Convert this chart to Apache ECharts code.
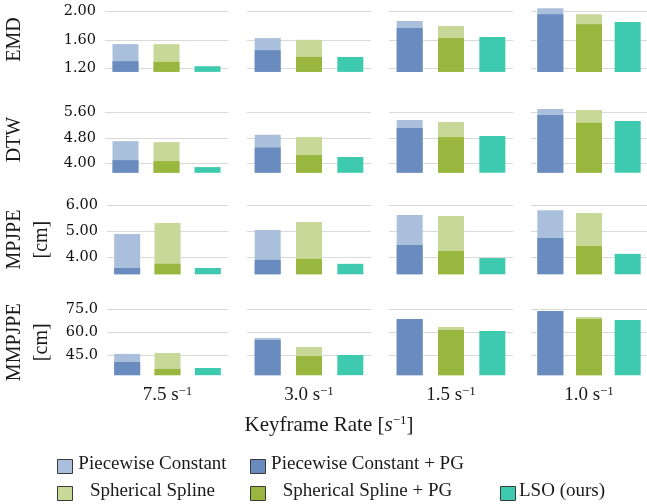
<!DOCTYPE html>
<html><head><meta charset="utf-8">
<script src="https://cdn.jsdelivr.net/npm/echarts@6/dist/echarts.min.js"></script>
<style>html,body{margin:0;padding:0;background:#fff}#c{width:647px;height:504px}</style>
</head><body><div id="c"></div>
<script>
// ---- data ----
const rates = ['7.5', '3.0', '1.5', '1.0'];
const metricNames = ['EMD', 'DTW', 'MPJPE\n[cm]', 'MMPJPE\n[cm]'];
const seriesNames = ['Piecewise Constant', 'Piecewise Constant + PG', 'Spherical Spline', 'Spherical Spline + PG', 'LSO (ours)'];
const methodCats = ['Piecewise Constant', 'Spherical Spline', 'LSO'];

const emdPC     = [1.54, 1.625, 1.865, 2.045];
const emdPCPG   = [1.30, 1.455, 1.765, 1.96];
const emdSS     = [1.54, 1.60, 1.795, 1.96];
const emdSSPG   = [1.29, 1.36, 1.625, 1.82];
const emdLSO    = [1.23, 1.36, 1.64, 1.85];

const dtwPC     = [4.70, 4.90, 5.37, 5.72];
const dtwPCPG   = [4.10, 4.50, 5.12, 5.53];
const dtwSS     = [4.67, 4.83, 5.31, 5.69];
const dtwSSPG   = [4.07, 4.26, 4.83, 5.28];
const dtwLSO    = [3.88, 4.20, 4.86, 5.34];

const mpjpePC   = [4.89, 5.04, 5.61, 5.80];
const mpjpePCPG = [3.59, 3.90, 4.47, 4.74];
const mpjpeSS   = [5.31, 5.35, 5.58, 5.69];
const mpjpeSSPG = [3.75, 3.94, 4.24, 4.43];
const mpjpeLSO  = [3.59, 3.75, 3.97, 4.13];

const mmpjpePC   = [45.9, 56.3, 68.5, 73.5];
const mmpjpePCPG = [40.6, 55.0, 68.7, 73.9];
const mmpjpeSS   = [46.5, 50.4, 63.5, 70.0];
const mmpjpeSSPG = [36.1, 44.5, 61.5, 68.7];
const mmpjpeLSO  = [36.7, 45.2, 60.9, 68.0];

const yTicks = [[1.20, 1.60, 2.00], [4.00, 4.80, 5.60], [4.00, 5.00, 6.00], [45.0, 60.0, 75.0]];
const yMin = [1.15, 3.70, 3.35, 32];
const yMax = [2.06, 5.80, 6.00, 75];
const yDecimals = [2, 2, 2, 1];

const metricData = [
  [emdPC, emdPCPG, emdSS, emdSSPG, emdLSO],
  [dtwPC, dtwPCPG, dtwSS, dtwSSPG, dtwLSO],
  [mpjpePC, mpjpePCPG, mpjpeSS, mpjpeSSPG, mpjpeLSO],
  [mmpjpePC, mmpjpePCPG, mmpjpeSS, mmpjpeSSPG, mmpjpeLSO]
];

// ---- style / layout ----
const colors = ['#aabfdb', '#6a8bbd', '#c8d898', '#99b63f', '#3dcaae'];
const seriesCat = [0, 0, 1, 1, 2];
const colLeft = [104, 247, 389, 531];
const colW = 124;
const rowBottom = [71.9, 172.8, 274.3, 375.2];
const rowTop = [7.1, 106.4, 204.9, 309.3];
const SERIF = '"Liberation Serif", "DejaVu Serif", serif';

const grids = [], xAxes = [], yAxes = [], series = [];
for (let r = 0; r < 4; r++) {
  for (let c = 0; c < 4; c++) {
    const idx = r * 4 + c;
    grids.push({left: colLeft[c], width: colW, top: rowTop[r], height: rowBottom[r] - rowTop[r], containLabel: false});
    const xa = {
      type: 'category', gridIndex: idx, data: methodCats,
      axisLine: {show: false}, axisTick: {show: false}, axisLabel: {show: false}
    };
    if (r === 3) {
      xa.name = '{a|' + rates[c] + ' s}{b|\u22121}';
      xa.nameLocation = 'middle';
      xa.nameGap = 10;
      xa.nameTextStyle = {
        color: '#1a1a1a', fontFamily: SERIF, fontSize: 19, verticalAlign: 'top',
        rich: {a: {fontFamily: SERIF, fontSize: 19, color: '#1a1a1a'},
               b: {fontFamily: SERIF, fontSize: 13, color: '#1a1a1a', verticalAlign: 'top'}}
      };
    }
    xAxes.push(xa);
    const dec = yDecimals[r];
    const ya = {
      type: 'value', gridIndex: idx, min: yMin[r], max: yMax[r],
      axisLine: {show: false},
      axisTick: {show: false, customValues: yTicks[r]},
      splitLine: {show: true, lineStyle: {color: '#d9d9d9', width: 1}},
      axisLabel: {
        show: c === 0, customValues: yTicks[r], margin: 9,
        formatter: v => Number(v).toFixed(dec),
        fontFamily: '"DejaVu Serif", serif', fontSize: 14.5, color: '#111111'
      }
    };
    if (c === 0) {
      ya.name = metricNames[r];
      ya.nameLocation = 'middle';
      ya.nameGap = r < 2 ? 77 : 52;
      ya.nameTextStyle = {fontFamily: SERIF, fontSize: 20, color: '#1a1a1a', lineHeight: 27, align: 'center'};
    }
    yAxes.push(ya);
    for (let k = 0; k < 5; k++) {
      const d = ['-', '-', '-'];
      d[seriesCat[k]] = metricData[r][k][c];
      series.push({
        name: seriesNames[k], type: 'bar', xAxisIndex: idx, yAxisIndex: idx,
        data: d, barWidth: 26, barGap: '-100%', clip: true, silent: true,
        itemStyle: {color: colors[k]}, animation: false
      });
    }
  }
}

// ---- legend drawn as graphic ----
const legendItems = [
  {k: 0, sx: 57, row: 0, tx: 152.5},
  {k: 1, sx: 250, row: 0, tx: 367.5},
  {k: 2, sx: 57, row: 1, tx: 152.5},
  {k: 3, sx: 250, row: 1, tx: 367.5},
  {k: 4, sx: 500, row: 1, tx: 562}
];
const legendRowY = [459, 486];
const graphics = [];
legendItems.forEach(it => {
  graphics.push({type: 'rect', shape: {x: it.sx + 0.5, y: legendRowY[it.row] + 0.5, width: 15, height: 14},
    style: {fill: colors[it.k], stroke: '#3a3a3a', lineWidth: 1}, silent: true});
  graphics.push({type: 'text', x: it.tx, y: legendRowY[it.row] + 5,
    style: {text: seriesNames[it.k], fontFamily: SERIF, fontSize: 19, fill: '#1a1a1a', align: 'center', verticalAlign: 'middle'}, silent: true});
});
graphics.push({type: 'text', x: 329, y: 425,
  style: {text: '{a|Keyframe Rate [}{i|s}{b|\u22121}{a|]}', align: 'center', verticalAlign: 'middle',
    fontFamily: SERIF, fontSize: 21, fill: '#1a1a1a',
    rich: {a: {fontFamily: SERIF, fontSize: 21, color: '#1a1a1a'},
           i: {fontFamily: SERIF, fontSize: 21, fontStyle: 'italic', color: '#1a1a1a'},
           b: {fontFamily: SERIF, fontSize: 13, color: '#1a1a1a', verticalAlign: 'top'}}},
  silent: true});

const chart = echarts.init(document.getElementById('c'), null, {renderer: 'canvas'});
chart.setOption({
  animation: false,
  backgroundColor: '#ffffff',
  grid: grids, xAxis: xAxes, yAxis: yAxes, series: series,
  graphic: graphics
});
</script></body></html>
